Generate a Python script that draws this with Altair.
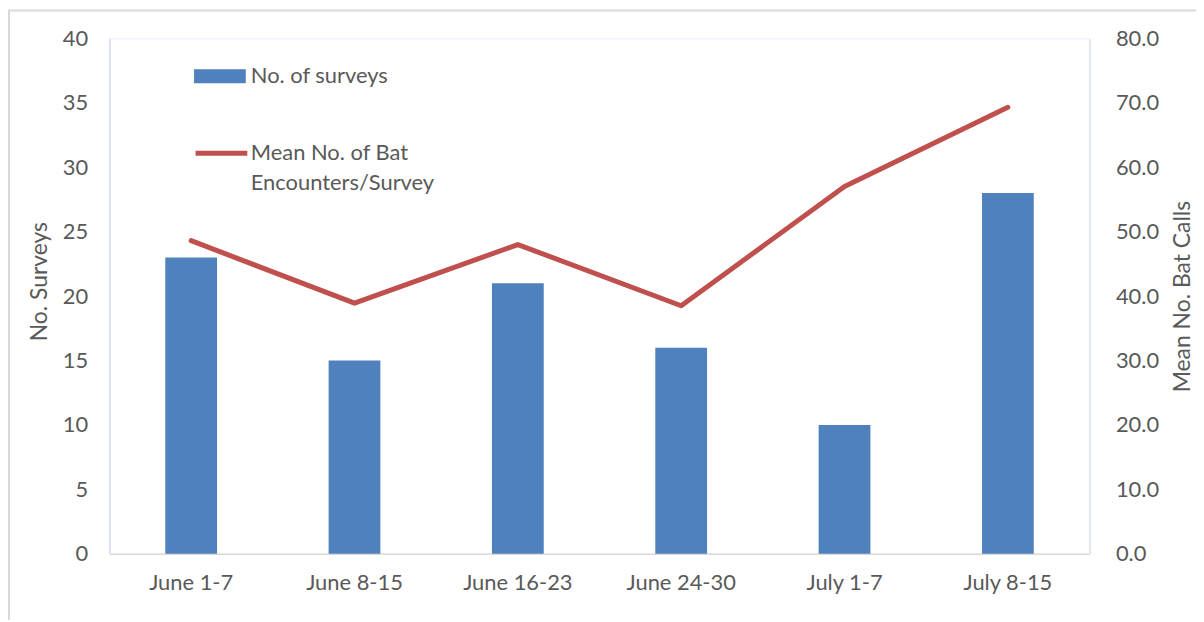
import altair as alt
import pandas as pd

periods = ["June 1-7", "June 8-15", "June 16-23", "June 24-30", "July 1-7", "July 8-15"]
surveys = [23, 15, 21, 16, 10, 28]
mean_calls = [48.6, 38.9, 48.0, 38.5, 57.0, 69.3]
bar_series = "No. of surveys"
line_series = "Mean No. of Bat Encounters/Survey"

df = pd.DataFrame({
    "period": periods,
    "surveys": surveys,
    "calls": mean_calls,
    "bseries": [bar_series] * len(periods),
    "lseries": [line_series] * len(periods),
})

FONT = "Lato"
TXT = "#595959"
FS = 22
TFS = 23

x_enc = alt.X(
    "period:N", sort=periods, title=None,
    scale=alt.Scale(paddingInner=0.683, paddingOuter=0.3415),
    axis=alt.Axis(labelAngle=0, ticks=False, domainColor="#D9D9D9", domainWidth=1.5,
                  labelPadding=19, labelFontSize=FS, labelColor=TXT, labelFont=FONT),
)

bars = alt.Chart(df).mark_bar().encode(
    x=x_enc,
    y=alt.Y("surveys:Q", title="No. Surveys",
            scale=alt.Scale(domain=[0, 40], nice=False),
            axis=alt.Axis(values=list(range(0, 41, 5)), ticks=False, grid=False,
                          domainColor="#BDD0E9", labelPadding=22,
                          titleAngle=-90, titleX=-70, titleY=244, titleBaseline="middle",
                          titleAlign="center")),
    fill=alt.Fill("bseries:N", title=None,
                  scale=alt.Scale(domain=[bar_series], range=["#4F81BD"]),
                  legend=alt.Legend(orient="none", legendX=85, legendY=12,
                                    symbolType="M-1,-0.27H1V0.27H-1Z", symbolSize=2704,
                                    symbolStrokeWidth=0, labelOffset=5, padding=0)),
)

line = alt.Chart(df).mark_line(strokeWidth=5, strokeCap="round", strokeJoin="round").encode(
    x=x_enc,
    y=alt.Y("calls:Q", title="Mean No. Bat Calls",
            scale=alt.Scale(domain=[0, 80], nice=False),
            axis=alt.Axis(orient="right", values=list(range(0, 81, 10)), format=".1f",
                          ticks=False, grid=False, domainColor="#C9D8EC", labelPadding=26,
                          titleAngle=-90, titleX=93, titleY=259, titleBaseline="middle",
                          titleAlign="center")),
    stroke=alt.Stroke("lseries:N", title=None,
                      scale=alt.Scale(domain=[line_series], range=["#C0504D"]),
                      legend=alt.Legend(orient="none", legendX=84, legendY=87,
                                        symbolType="stroke", symbolSize=2704,
                                        symbolStrokeWidth=5, labelOffset=1, padding=0,
                                        labelExpr="datum.label == 'Mean No. of Bat Encounters/Survey' ? ['Mean No. of Bat', 'Encounters/Survey'] : datum.label")),
)

frame = alt.Chart(pd.DataFrame({"k": [0]})).mark_rect(
    fill=None, stroke="#D9D9D9", strokeWidth=2
).encode(
    x=alt.value(-101), x2=alt.value(1120), y=alt.value(-28), y2=alt.value(640)
)

chart = alt.layer(frame, bars, line).resolve_scale(
    y="independent", fill="independent", stroke="independent"
).properties(
    width=985, height=518,
    autosize=alt.AutoSizeParams(type="none"),
    padding={"left": 102, "top": 29, "right": 107, "bottom": 65},
).configure(
    font=FONT,
    style={"guide-label": {"lineHeight": 30}},
).configure_view(
    stroke="#EAF0F8", strokeWidth=1,
).configure_axis(
    labelFont=FONT, labelFontSize=FS, labelColor=TXT,
    titleFont=FONT, titleFontSize=TFS, titleColor=TXT, titleFontWeight="normal",
).configure_legend(
    labelFont=FONT, labelFontSize=FS, labelColor=TXT, labelLimit=400,
)

chart.save("out.html", embed_options={"renderer": "svg", "actions": False})
